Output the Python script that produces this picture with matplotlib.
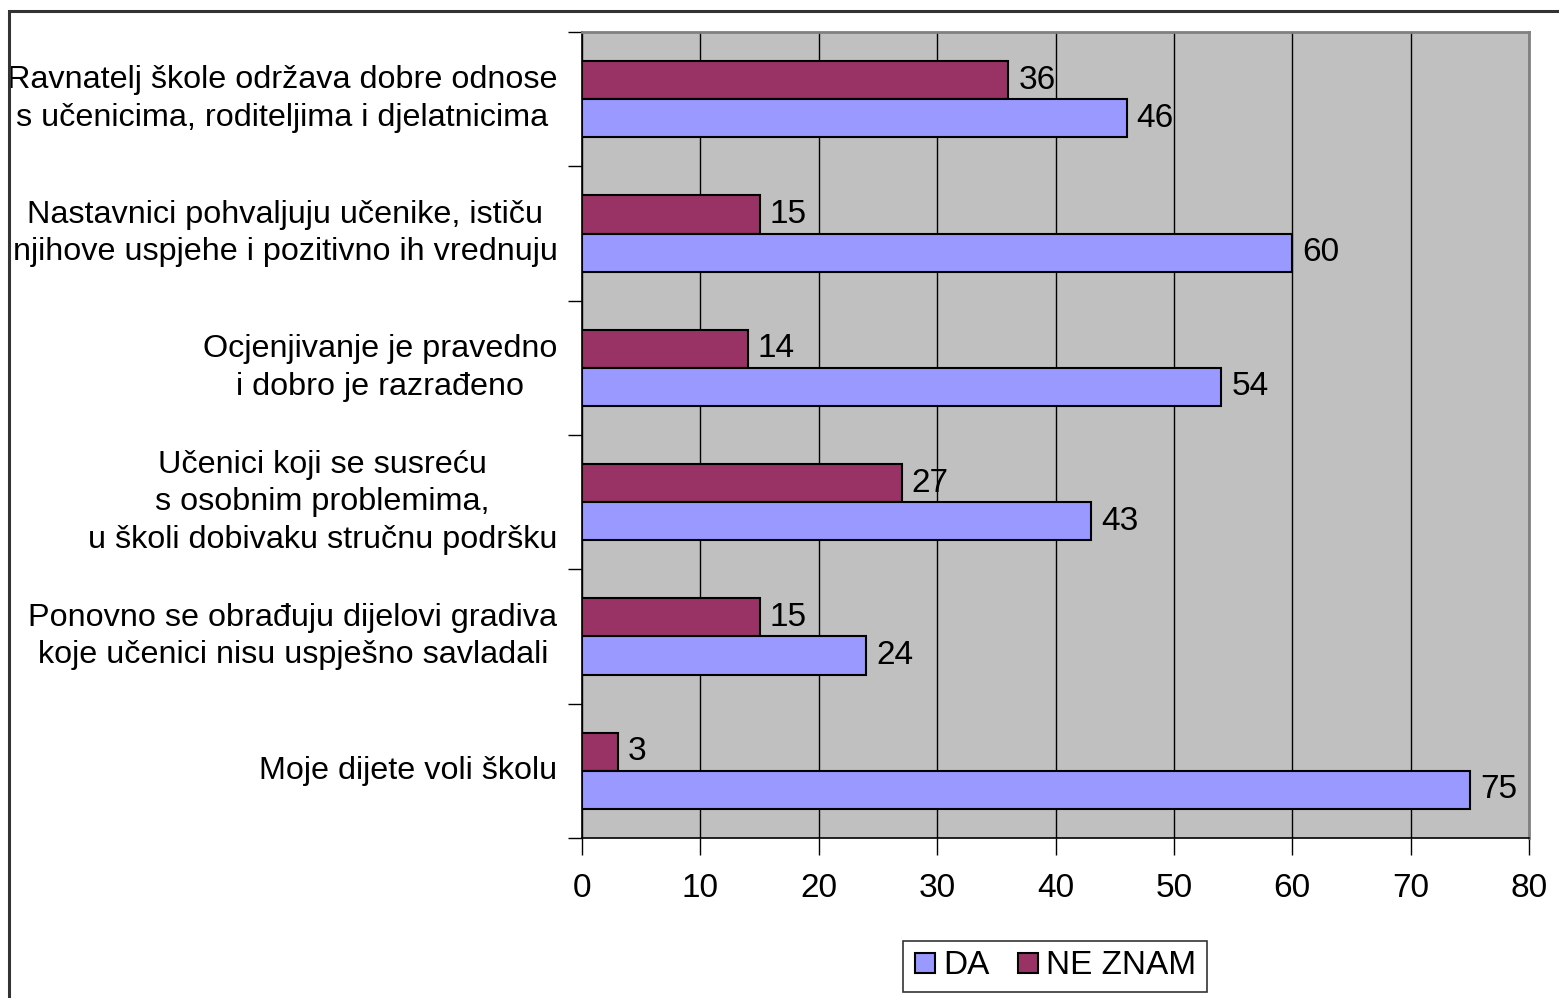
import matplotlib.pyplot as plt
import numpy as np
from matplotlib.lines import Line2D
from matplotlib.patches import Rectangle

plt.rcParams['font.family'] = ['Liberation Sans', 'DejaVu Sans']

categories = [
    "Ravnatelj škole održava dobre odnose\ns učenicima, roditeljima i djelatnicima",
    "Nastavnici pohvaljuju učenike, ističu\nnjihove uspjehe i pozitivno ih vrednuju",
    "Ocjenjivanje je pravedno\ni dobro je razrađeno",
    "Učenici koji se susreću\ns osobnim problemima,\nu školi dobivaku stručnu podršku",
    "Ponovno se obrađuju dijelovi gradiva\nkoje učenici nisu uspješno savladali",
    "Moje dijete voli školu",
]
da_values = [46, 60, 54, 43, 24, 75]
ne_znam_values = [36, 15, 14, 27, 15, 3]

DA_COLOR = '#9999FF'
NE_COLOR = '#993366'
FS_LAB = 23.3
FS_NUM = 24

fig = plt.figure(figsize=(15.59, 9.98), dpi=100)
ax = fig.add_axes([582 / 1559, 1 - 838 / 998, (1529 - 582) / 1559, (838 - 32) / 998])

y = np.arange(len(categories))
h = 0.283
ax.barh(y - h / 2, ne_znam_values, height=h, color=NE_COLOR, edgecolor='black', linewidth=1.5, zorder=3)
ax.barh(y + h / 2, da_values, height=h, color=DA_COLOR, edgecolor='black', linewidth=1.5, zorder=3)

# value labels
for i in range(len(categories)):
    ax.text(ne_znam_values[i] + 0.85, y[i] - h / 2, str(ne_znam_values[i]),
            va='center', ha='left', fontsize=FS_NUM)
    ax.text(da_values[i] + 0.85, y[i] + h / 2, str(da_values[i]),
            va='center', ha='left', fontsize=FS_NUM)

ax.set_xlim(0, 80)
ax.set_ylim(len(categories) - 0.5, -0.5)
ax.set_facecolor('#C0C0C0')
ax.set_xticks(np.arange(0, 81, 10))
ax.tick_params(axis='x', labelsize=FS_NUM, length=12, width=1, pad=13, direction='out')
ax.grid(axis='x', color='black', linewidth=1, zorder=1)
ax.set_axisbelow(True)

# ticks on category boundaries, labels at centres
ax.set_yticks(np.arange(-0.5, len(categories), 1.0))
ax.set_yticklabels([])
ax.tick_params(axis='y', length=10, width=1, direction='out')
for i, lab in enumerate(categories):
    ax.text(-0.026, y[i], lab, transform=ax.get_yaxis_transform(), ha='right', va='center',
            multialignment='center', fontsize=FS_LAB, linespacing=1.33)

for side in ['top', 'right']:
    ax.spines[side].set_color('#808080')
    ax.spines[side].set_linewidth(2)
for side in ['left', 'bottom']:
    ax.spines[side].set_color('black')
    ax.spines[side].set_linewidth(1.2)

handles = [
    Line2D([], [], marker='s', linestyle='none', markersize=14, markerfacecolor=DA_COLOR,
           markeredgecolor='black', markeredgewidth=1.5),
    Line2D([], [], marker='s', linestyle='none', markersize=14, markerfacecolor=NE_COLOR,
           markeredgecolor='black', markeredgewidth=1.5),
]
leg = fig.legend(handles, ['DA', 'NE ZNAM'], loc='center', bbox_to_anchor=(1055 / 1559, 1 - 966 / 998),
                 ncol=2, fontsize=FS_NUM, frameon=True, fancybox=False, edgecolor='black',
                 handlelength=0.7, handletextpad=0.2, columnspacing=0.8, borderpad=0.3)
leg.get_frame().set_linewidth(1.2)

# outer chart border (only top and left visible)
fig.add_artist(Rectangle((8.5 / 1559, -0.1), 2, 1 - 10.5 / 998 + 0.1, transform=fig.transFigure,
                         fill=False, edgecolor='#333333', linewidth=2.2))

fig.savefig('out.png', dpi=100)
